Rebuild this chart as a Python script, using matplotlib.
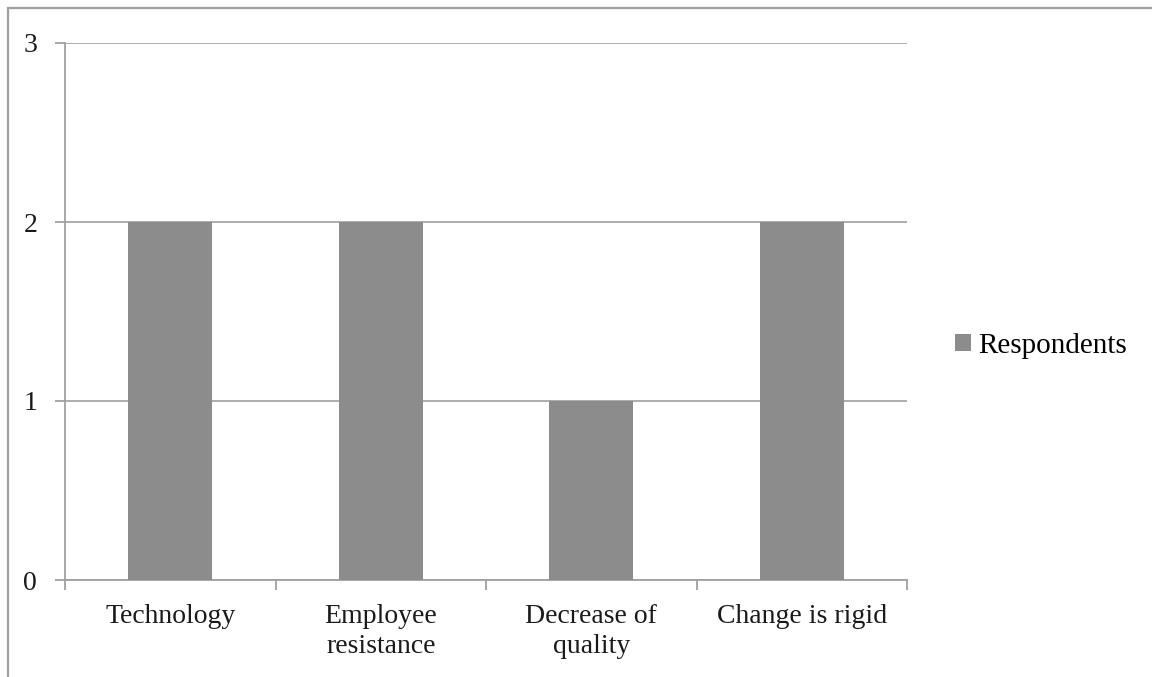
import numpy as np
import matplotlib
matplotlib.use('Agg')
import matplotlib.pyplot as plt
from matplotlib.patches import Rectangle

categories = ['Technology', 'Employee\nresistance', 'Decrease of\nquality', 'Change is rigid']
respondents = [2, 2, 1, 2]
yticks = [0, 1, 2, 3]

W, H = 1152, 677
fig = plt.figure(figsize=(W / 100, H / 100), dpi=100)
plt.rcParams['font.family'] = ['Liberation Serif', 'DejaVu Serif']

# outer chart frame (top and left edges visible)
fig.add_artist(Rectangle((8 / W, -0.05), 1.1, 1 - 8 / H + 0.05, transform=fig.transFigure,
                         fill=False, edgecolor='#a0a0a0', linewidth=1.6))

ax = fig.add_axes([65 / W, 1 - 580 / H, (907 - 65) / W, (580 - 43) / H])
x = np.arange(len(categories))
ax.bar(x, respondents, width=0.4, color='#8c8c8c', label='Respondents', zorder=3)

ax.set_xlim(-0.5, len(categories) - 0.5)
ax.set_ylim(0, 3)
ax.set_yticks(yticks)
ax.yaxis.grid(True, color='#a6a6a6', linewidth=1.3, zorder=0)

ax.set_xticks(np.arange(-0.5, len(categories), 1.0))
ax.set_xticklabels([])
ax.set_xticks(x, minor=True)
ax.set_xticklabels(categories, minor=True, fontsize=20, color='#1a1a1a', linespacing=1.3)
ax.tick_params(axis='x', which='major', length=7, color='#a0a0a0', width=1.3, direction='out')
ax.tick_params(axis='x', which='minor', length=0, pad=17)
ax.tick_params(axis='y', length=7, color='#a0a0a0', width=1.3, pad=13, labelsize=20, labelcolor='#1a1a1a')
for lbl in ax.get_yticklabels():
    lbl.set_va('center_baseline')

for side in ['top', 'right']:
    ax.spines[side].set_visible(False)
for side in ['left', 'bottom']:
    ax.spines[side].set_color('#a0a0a0')
    ax.spines[side].set_linewidth(1.3)

ax.legend(loc='center left', bbox_to_anchor=(955 / W, 1 - 346 / H), bbox_transform=fig.transFigure,
          frameon=False, fontsize=21, handlelength=0.55, handleheight=0.55, handletextpad=0.25,
          borderpad=0, borderaxespad=0)

plt.savefig('out.png', dpi=100)
